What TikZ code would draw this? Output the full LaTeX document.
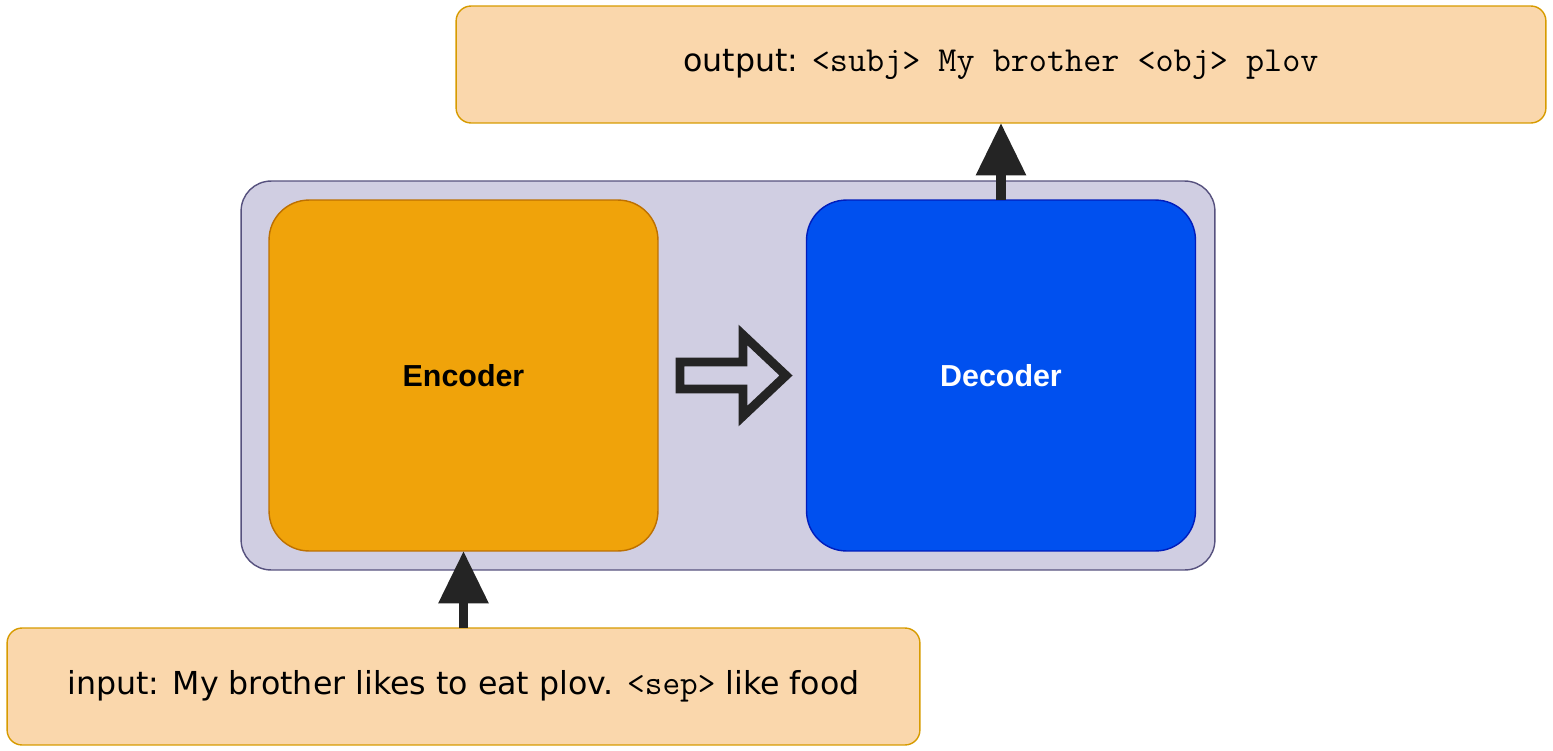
\documentclass[tikz,border=0pt]{standalone}
\usepackage{fontspec}
\setmainfont{DejaVu Sans}
\newfontfamily\labelfont{Liberation Sans}
\usetikzlibrary{arrows.meta,positioning}
\definecolor{peachfill}{HTML}{FAD7AC}
\definecolor{peachline}{HTML}{D79B00}
\definecolor{modelfill}{HTML}{D0CEE2}
\definecolor{modelline}{HTML}{56517E}
\definecolor{encfill}{HTML}{F0A30A}
\definecolor{encline}{HTML}{BD7000}
\definecolor{decfill}{HTML}{0050EF}
\definecolor{decline}{HTML}{001DBC}
\definecolor{arrowink}{HTML}{242424}
\begin{document}
\begin{tikzpicture}[x=0.02cm,y=-0.02cm,
    textbox/.style={draw=peachline,fill=peachfill,line width=0.8pt,rounded corners=0.3cm,
      minimum height=2.34cm,inner sep=0,outer sep=0,font=\fontsize{18}{21}\selectfont},
    block/.style={line width=0.8pt,rounded corners=0.8cm,minimum width=7.78cm,
      minimum height=7.02cm,inner sep=0,outer sep=0,font=\labelfont\bfseries\fontsize{17.3}{20}\selectfont},
    uparrow/.style={draw=arrowink,line width=5.5pt,-{Triangle[width=0.96cm,length=1.05cm]}}]
  \useasboundingbox (0,0) rectangle (1553,751);

  % model frame
  \node[draw=modelline,fill=modelfill,line width=0.8pt,rounded corners=0.6cm,
    minimum width=19.48cm,minimum height=7.78cm,outer sep=0] (model) at (728,375.5) {};

  % encoder and decoder
  \node[block,draw=encline,fill=encfill] (enc) at (463.5,375.5) {Encoder};
  \node[block,draw=decline,fill=decfill,text=white] (dec) at (1001,375.5) {Decoder};

  % hollow arrow between them
  \draw[arrowink,line width=5.1pt,miter limit=4] (680,362) -- (743,362) -- (743,335)
    -- (786,375.5) -- (743,416) -- (743,389) -- (680,389) -- cycle;

  % input and output
  \node[textbox,minimum width=18.26cm] (input) at (463.5,686.5)
    {input: My brother likes to eat plov. {\ttfamily\fontsize{19.5}{22}\selectfont<sep>} like food};
  \node[textbox,minimum width=21.8cm] (output) at (1001,64.5)
    {output: {\ttfamily\fontsize{20}{23}\selectfont<subj> My brother <obj> plov}};

  \draw[uparrow] (input.north) -- (enc.south);
  \draw[uparrow] (dec.north) -- (output.south);
\end{tikzpicture}
\end{document}
